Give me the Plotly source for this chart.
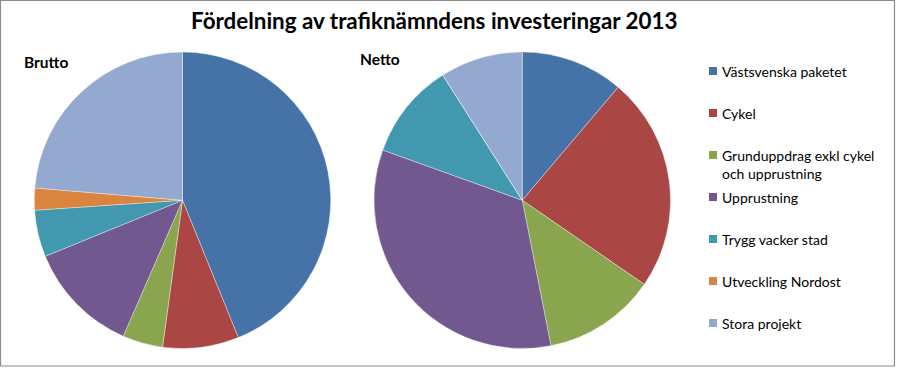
import plotly.graph_objects as go

W, H = 897, 369

labels = ["Västsvenska paketet", "Cykel", "Grunduppdrag exkl cykel<br>och upprustning",
          "Upprustning", "Trygg vacker stad", "Utveckling Nordost", "Stora projekt"]
brutto = [43.9, 8.3, 4.4, 12.3, 5.1, 2.4, 23.7]
netto = [11.2, 23.4, 12.3, 33.6, 10.5, 0.0, 9.0]
colors = ["#4572A7", "#AA4643", "#89A54E", "#71588F", "#4198AF", "#DB843D", "#93A9CF"]

FONT = "Lato"

def px_x(x):
    return x / W

def px_y(y):
    return 1 - y / H

fig = go.Figure()
common = dict(sort=False, direction="clockwise", rotation=0, textinfo="none",
              hoverinfo="label+percent", showlegend=False,
              marker=dict(colors=colors, line=dict(color="rgba(255,255,255,0.6)", width=0.6)))
fig.add_trace(go.Pie(labels=labels, values=brutto, name="Brutto",
                     domain=dict(x=[px_x(34), px_x(331)], y=[px_y(348.5), px_y(52)]), **common))
fig.add_trace(go.Pie(labels=labels, values=netto, name="Netto",
                     domain=dict(x=[px_x(374), px_x(670.5)], y=[px_y(348.5), px_y(52)]), **common))

annotations = [
    dict(text="<b>Fördelning av trafiknämndens investeringar 2013</b>", x=px_x(434), y=px_y(21),
         xanchor="center", yanchor="middle", showarrow=False, font=dict(family=FONT, size=22.4, color="#000")),
    dict(text="<b>Brutto</b>", x=px_x(22), y=px_y(62), xanchor="left", yanchor="middle",
         showarrow=False, font=dict(family=FONT, size=15.5, color="#000")),
    dict(text="<b>Netto</b>", x=px_x(358), y=px_y(59), xanchor="left", yanchor="middle",
         showarrow=False, font=dict(family=FONT, size=15.5, color="#000")),
]
shapes = [dict(type="rect", xref="paper", yref="paper", x0=px_x(0.5), x1=px_x(894.5),
               y0=px_y(366), y1=px_y(0.5), line=dict(color="#8c8c8c", width=1.2))]

legend_y = [71, 113, 155, 197, 239, 281, 323]
for lab, col, ly in zip(labels, colors, legend_y):
    shapes.append(dict(type="rect", xref="paper", yref="paper", x0=px_x(709), x1=px_x(717),
                       y0=px_y(ly + 4), y1=px_y(ly - 4), fillcolor=col, line=dict(width=0)))
    annotations.append(dict(text=lab, x=px_x(720), y=px_y(ly - 10), xanchor="left", yanchor="top",
                            align="left", showarrow=False,
                            font=dict(family=FONT, size=14, color="#000")))

fig.update_layout(width=W, height=H, margin=dict(l=0, r=0, t=0, b=0),
                  paper_bgcolor="white", plot_bgcolor="white",
                  annotations=annotations, shapes=shapes)
fig.write_html("out.html")
